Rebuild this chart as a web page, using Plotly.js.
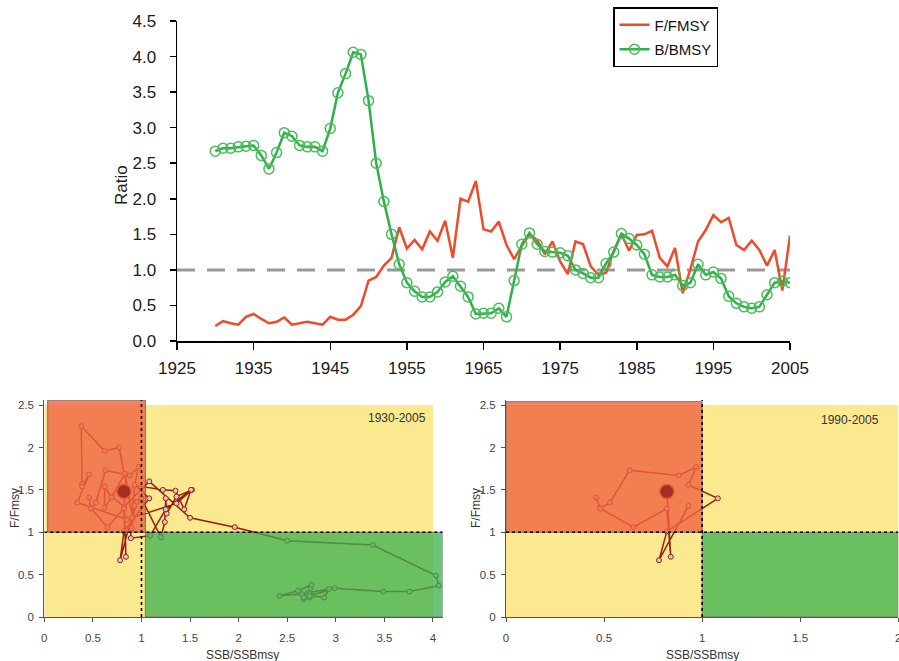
<!DOCTYPE html>
<html>
<head>
<meta charset="utf-8">
<script src="https://cdn.plot.ly/plotly-3.0.1.min.js"></script>
<style>
  html, body { margin: 0; padding: 0; background: #fff; }
  #chart { width: 899px; height: 661px; }
</style>
</head>
<body>
<div id="chart"></div>
<script>
// ---------- data ----------
const years = [1930,1931,1932,1933,1934,1935,1936,1937,1938,1939,
  1940,1941,1942,1943,1944,1945,1946,1947,1948,1949,
  1950,1951,1952,1953,1954,1955,1956,1957,1958,1959,
  1960,1961,1962,1963,1964,1965,1966,1967,1968,1969,
  1970,1971,1972,1973,1974,1975,1976,1977,1978,1979,
  1980,1981,1982,1983,1984,1985,1986,1987,1988,1989,
  1990,1991,1992,1993,1994,1995,1996,1997,1998,1999,
  2000,2001,2002,2003,2004,2005];

const fRatio = [0.21,0.28,0.25,0.23,0.34,0.38,0.31,0.25,0.27,0.33,
  0.23,0.25,0.27,0.25,0.23,0.34,0.30,0.30,0.37,0.49,
  0.85,0.90,1.06,1.17,1.60,1.30,1.42,1.29,1.54,1.41,
  1.69,1.17,2.00,1.96,2.25,1.57,1.54,1.68,1.35,1.15,
  1.34,1.50,1.42,1.22,1.40,1.12,0.94,1.40,1.36,1.05,
  0.93,0.96,1.27,1.50,1.27,1.49,1.50,1.55,1.17,1.05,
  1.31,0.67,1.01,1.40,1.56,1.77,1.67,1.73,1.35,1.28,
  1.41,1.28,1.06,1.28,0.71,1.48];

const bRatio = [2.67,2.71,2.71,2.73,2.74,2.75,2.61,2.42,2.65,2.93,
  2.88,2.75,2.73,2.73,2.67,2.99,3.49,3.76,4.06,4.03,
  3.38,2.50,1.96,1.50,1.08,0.82,0.70,0.62,0.62,0.69,
  0.83,0.91,0.77,0.62,0.38,0.39,0.39,0.46,0.34,0.85,
  1.36,1.52,1.36,1.26,1.25,1.24,1.20,1.00,0.95,0.89,
  0.89,1.09,1.25,1.51,1.44,1.35,1.22,0.93,0.90,0.90,
  0.93,0.78,0.82,1.08,0.93,0.97,0.88,0.63,0.53,0.48,
  0.46,0.48,0.65,0.82,0.84,0.82];

const seriesNames = ['F/FMSY', 'B/BMSY'];
const yearTicks = [1925,1935,1945,1955,1965,1975,1985,1995,2005];
const ratioTicks = [0,0.5,1,1.5,2,2.5,3,3.5,4,4.5];
const kobeLabels = ['1930-2005', '1990-2005'];
const recentStart = 1990;
const refLevel = 1;

// ---------- derived ----------
const recIdx = years.map((y,i)=>i).filter(i => years[i] >= recentStart);
const bRecent = recIdx.map(i => bRatio[i]);
const fRecent = recIdx.map(i => fRatio[i]);
const lastB = bRatio[bRatio.length-1];
const lastF = fRatio[fRatio.length-1];

const W = 899, H = 661;
const px = v => v / W;
const py = v => 1 - v / H;

const FONT = 'Liberation Sans, Arial, sans-serif';
const TRAJ = '#9b1c10';

const kobeTrace = (xs, ys, xa, ya) => ({
  x: xs, y: ys, xaxis: xa, yaxis: ya, type: 'scatter', mode: 'lines+markers',
  showlegend: false, hoverinfo: 'skip',
  line: {color: TRAJ, width: 1.5},
  marker: {size: 5, color: '#d9c9c4', line: {color: TRAJ, width: 1}}
});

const data = [
  {x: years, y: fRatio, name: seriesNames[0], type: 'scatter', mode: 'lines',
   xaxis: 'x', yaxis: 'y', legendgroup: 'a',
   line: {color: '#ef4a2b', width: 2.5}},
  {x: years, y: bRatio, name: seriesNames[1], type: 'scatter', mode: 'lines+markers',
   xaxis: 'x', yaxis: 'y', legendgroup: 'b',
   line: {color: '#2fb04a', width: 2.5},
   marker: {symbol: 'circle-open', size: 10, color: '#48bd58', line: {width: 1.5}}},
  kobeTrace(bRatio, fRatio, 'x2', 'y2'),
  kobeTrace(bRecent, fRecent, 'x3', 'y3')
];

const smallAxisX = (domain, range, anchor) => ({
  domain: domain, range: range, anchor: anchor, dtick: 0.5, tick0: 0,
  ticks: 'outside', ticklen: 4, tickcolor: '#555', tickwidth: 1,
  showline: true, linecolor: '#555', linewidth: 1,
  showgrid: false, zeroline: false, ticklabelstandoff: 6,
  ticklabeloverflow: 'allow',
  tickfont: {family: FONT, size: 11.5, color: '#444'}
});
const smallAxisY = (anchor) => ({
  domain: [py(617), py(400)], range: [0, 2.56], anchor: anchor,
  tickvals: [0,0.5,1,1.5,2,2.5], ticktext: ['0','0.5','1','1.5','2','2.5'],
  ticks: 'outside', ticklen: 4, tickcolor: '#555', tickwidth: 1,
  showline: true, linecolor: '#555', linewidth: 1,
  showgrid: false, zeroline: false, ticklabelstandoff: 3,
  tickfont: {family: FONT, size: 11.5, color: '#444'}
});

const RED_OV = 'rgb(240,100,66)';
const GREEN_OV = 'rgb(58,177,79)';
const YELLOW = '#fbe98f';
const EDGE = {color: '#555', width: 1};

function kobeShapes(xa, ya, xMax, xYellow, redX0, redX1, redTop) {
  const r = {xref: xa, yref: ya};
  return [
    Object.assign({type:'rect', x0: 0, x1: xYellow, y0: 0, y1: 2.5,
      fillcolor: YELLOW, line: {width: 0}, layer: 'below'}, r),
    Object.assign({type:'rect', x0: redX0, x1: redX1, y0: refLevel, y1: redTop,
      fillcolor: RED_OV, opacity: 0.8, line: EDGE, layer: 'above'}, r),
    Object.assign({type:'rect', x0: redX1, x1: xMax, y0: 0, y1: refLevel,
      fillcolor: GREEN_OV, opacity: 0.75, line: EDGE, layer: 'above'}, r),
    Object.assign({type:'line', x0: 0, x1: xMax, y0: refLevel, y1: refLevel,
      line: {color: '#000', width: 1.6, dash: 'dot'}, layer: 'above'}, r),
    Object.assign({type:'line', x0: refLevel, x1: refLevel, y0: 0, y1: 2.56,
      line: {color: '#000', width: 1.6, dash: 'dot'}, layer: 'above'}, r),
    Object.assign({type:'circle', xsizemode: 'pixel', ysizemode: 'pixel',
      xanchor: lastB, yanchor: lastF, x0: -7, x1: 7, y0: -7, y1: 7,
      fillcolor: '#a52f1e', line: {color: '#e0573a', width: 1.5}, layer: 'above'}, r)
  ];
}

const shapes = [
  {type: 'line', xref: 'x domain', yref: 'y', x0: 0, x1: 1, y0: refLevel, y1: refLevel,
   line: {color: '#999', width: 3, dash: '18px,12px'}, layer: 'below'}
].concat(
  kobeShapes('x2', 'y2', 4.1, 4.0, 0.035, 1.04, 2.56),
  kobeShapes('x3', 'y3', 2.0, 2.0, 0, 1.0, 2.54)
);

const ann = (text, x, y, size, extra) => Object.assign({
  text: text, xref: 'paper', yref: 'paper', x: px(x), y: py(y),
  xanchor: 'center', yanchor: 'middle', showarrow: false,
  font: {family: FONT, size: size, color: '#333'}
}, extra || {});

const layout = {
  width: W, height: H,
  margin: {l: 0, r: 0, t: 0, b: 0},
  paper_bgcolor: '#fff', plot_bgcolor: 'rgba(0,0,0,0)',
  showlegend: true,
  legend: {x: px(613), y: py(7), xanchor: 'left', yanchor: 'top',
    bgcolor: '#fff', bordercolor: '#000', borderwidth: 1.5,
    tracegroupgap: 2, traceorder: 'grouped',
    font: {family: FONT, size: 15, color: '#111'}},
  xaxis: {domain: [px(177), px(790)], range: [1925, 2005], anchor: 'y',
    tickvals: yearTicks, ticks: 'outside', ticklen: 7, tickwidth: 1.5, tickcolor: '#000',
    showline: true, linecolor: '#000', linewidth: 1.5, showgrid: false, zeroline: false,
    ticklabelstandoff: 4,
    tickfont: {family: FONT, size: 17, color: '#1a1a1a'}},
  yaxis: {domain: [py(341), py(21)], range: [0, 4.5], anchor: 'x',
    tickvals: ratioTicks, tickformat: '.1f', ticks: 'outside', ticklen: 6, tickwidth: 1.5, tickcolor: '#000',
    showline: true, linecolor: '#000', linewidth: 1.5, showgrid: false, zeroline: false,
    ticklabelstandoff: 10,
    tickfont: {family: FONT, size: 17, color: '#1a1a1a'}},
  xaxis2: smallAxisX([px(44.3), px(442.7)], [0, 4.1], 'y2'),
  yaxis2: smallAxisY('x2'),
  xaxis3: smallAxisX([px(506), px(898.3)], [0, 2], 'y3'),
  yaxis3: smallAxisY('x3'),
  shapes: shapes,
  annotations: [
    ann('Ratio', 121, 185, 17, {textangle: -90, font: {family: FONT, size: 17, color: '#1a1a1a'}}),
    ann(kobeLabels[0], 397, 418, 12),
    ann(kobeLabels[1], 850, 420, 12),
    ann('F/Fmsy', 15, 508, 12, {textangle: -90}),
    ann('F/Fmsy', 476, 508, 12, {textangle: -90}),
    ann('SSB/SSBmsy', 243, 655, 12),
    ann('SSB/SSBmsy', 702, 655, 12)
  ]
};

Plotly.newPlot('chart', data, layout, {staticPlot: true, displayModeBar: false});
</script>
</body>
</html>
